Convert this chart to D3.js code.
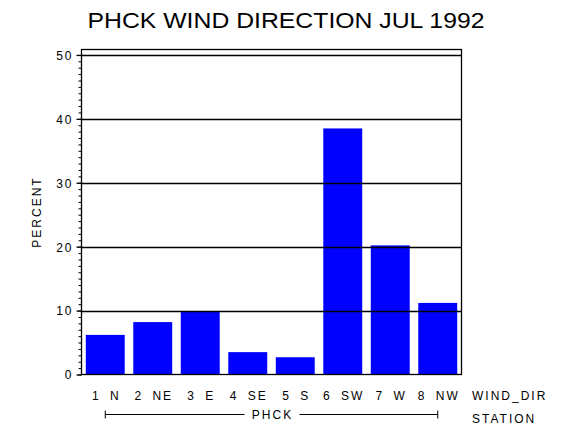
<!DOCTYPE html>
<html>
<head>
<meta charset="utf-8">
<script src="https://cdn.jsdelivr.net/npm/d3@7/dist/d3.min.js"></script>
<style>
  body { margin: 0; background: #fff; }
  text { font-family: "Liberation Sans", Arial, sans-serif; fill: #000; }
  .lbl { font-size: 12px; letter-spacing: 2px; }
</style>
</head>
<body>
<div id="chart"></div>
<script>
// chart data
var directions = ["1 N", "2 NE", "3 E", "4 SE", "5 S", "6 SW", "7 W", "8 NW"];
var percents = [6.2, 8.2, 9.9, 3.5, 2.7, 38.5, 20.2, 11.2];
var yTicks = [0, 10, 20, 30, 40, 50];
var station = "PHCK";
var titleText = "PHCK WIND DIRECTION JUL 1992";

var W = 570, H = 430;
var mLeft = 81.5, mRight = 461.5, mTop = 49.5, mBottom = 374.5;

var svg = d3.select("#chart").append("svg")
    .attr("width", W)
    .attr("height", H);

var x = d3.scaleBand()
    .domain(directions)
    .range([mLeft, mRight])
    .paddingInner(0.18)
    .paddingOuter(0.09);

var y = d3.scaleLinear()
    .domain([0, 50.85])
    .range([mBottom, mTop]);

// bars
svg.selectAll(".bar")
    .data(percents)
    .enter()
    .append("rect")
    .attr("class", "bar")
    .attr("x", function(d, i) { return x(directions[i]); })
    .attr("y", function(d) { return y(d); })
    .attr("width", x.bandwidth())
    .attr("height", function(d) { return y(0) - y(d); })
    .style("fill", "#0000ff");

// grid lines over the bars
svg.selectAll(".grid")
    .data(yTicks.slice(1))
    .enter()
    .append("line")
    .attr("x1", mLeft)
    .attr("x2", mRight)
    .attr("y1", function(d) { return Math.round(y(d)) + 0.5; })
    .attr("y2", function(d) { return Math.round(y(d)) + 0.5; })
    .style("stroke", "#000")
    .style("stroke-width", 1.3);

// frame
svg.append("rect")
    .attr("x", mLeft)
    .attr("y", mTop)
    .attr("width", mRight - mLeft)
    .attr("height", mBottom - mTop)
    .style("fill", "none")
    .style("stroke", "#000")
    .style("stroke-width", 1.3);

// minor ticks
var yMinor = d3.axisLeft(y)
    .tickValues(d3.range(0, 51, 1))
    .tickSize(3)
    .tickFormat("");
svg.append("g")
    .attr("transform", "translate(" + mLeft + ",0)")
    .call(yMinor)
    .call(function(g) { g.select(".domain").remove(); });

// major ticks and labels
var yAxis = d3.axisLeft(y)
    .tickValues(yTicks)
    .tickSize(5)
    .tickPadding(3);
var ya = svg.append("g")
    .attr("transform", "translate(" + mLeft + ",0)")
    .call(yAxis);
ya.select(".domain").remove();
ya.selectAll("line").style("stroke-width", 1.3);
ya.selectAll("text")
    .attr("class", "lbl")
    .style("font-family", "Liberation Sans, Arial, sans-serif")
    .style("font-size", "12px")
    .attr("dy", "0.36em");

// category labels
svg.selectAll(".xlab")
    .data(directions)
    .enter()
    .append("text")
    .attr("class", "lbl")
    .attr("x", function(d) { return x(d) + x.bandwidth() / 2 + 1; })
    .attr("y", 400)
    .attr("text-anchor", "middle")
    .style("word-spacing", "4px")
    .text(function(d) { return d; });

svg.append("text")
    .attr("class", "lbl")
    .attr("x", 472)
    .attr("y", 400)
    .text("WIND_DIR");

// station bracket
var sx1 = x(directions[0]) + x.bandwidth() / 2;
var sx2 = x(directions[directions.length - 1]) + x.bandwidth() / 2;
var smid = (sx1 + sx2) / 2;
var by = 414.5;
svg.append("line").attr("x1", sx1).attr("x2", smid - 27).attr("y1", by).attr("y2", by).style("stroke", "#000");
svg.append("line").attr("x1", smid + 28).attr("x2", sx2).attr("y1", by).attr("y2", by).style("stroke", "#000");
svg.append("line").attr("x1", sx1).attr("x2", sx1).attr("y1", by - 4).attr("y2", by + 4).style("stroke", "#000");
svg.append("line").attr("x1", sx2).attr("x2", sx2).attr("y1", by - 4).attr("y2", by + 4).style("stroke", "#000");
svg.append("text")
    .attr("class", "lbl")
    .attr("x", smid + 1)
    .attr("y", 419)
    .attr("text-anchor", "middle")
    .text(station);

svg.append("text")
    .attr("class", "lbl")
    .attr("x", 472)
    .attr("y", 423)
    .text("STATION");

// y title
svg.append("text")
    .attr("class", "lbl")
    .attr("transform", "translate(41," + ((mTop + mBottom) / 2) + ") rotate(-90)")
    .attr("text-anchor", "middle")
    .text("PERCENT");

// title
svg.append("text")
    .attr("x", 286)
    .attr("y", 28)
    .attr("text-anchor", "middle")
    .style("font-size", "22px")
    .attr("textLength", 397)
    .attr("lengthAdjust", "spacingAndGlyphs")
    .text(titleText);
</script>
</body>
</html>
